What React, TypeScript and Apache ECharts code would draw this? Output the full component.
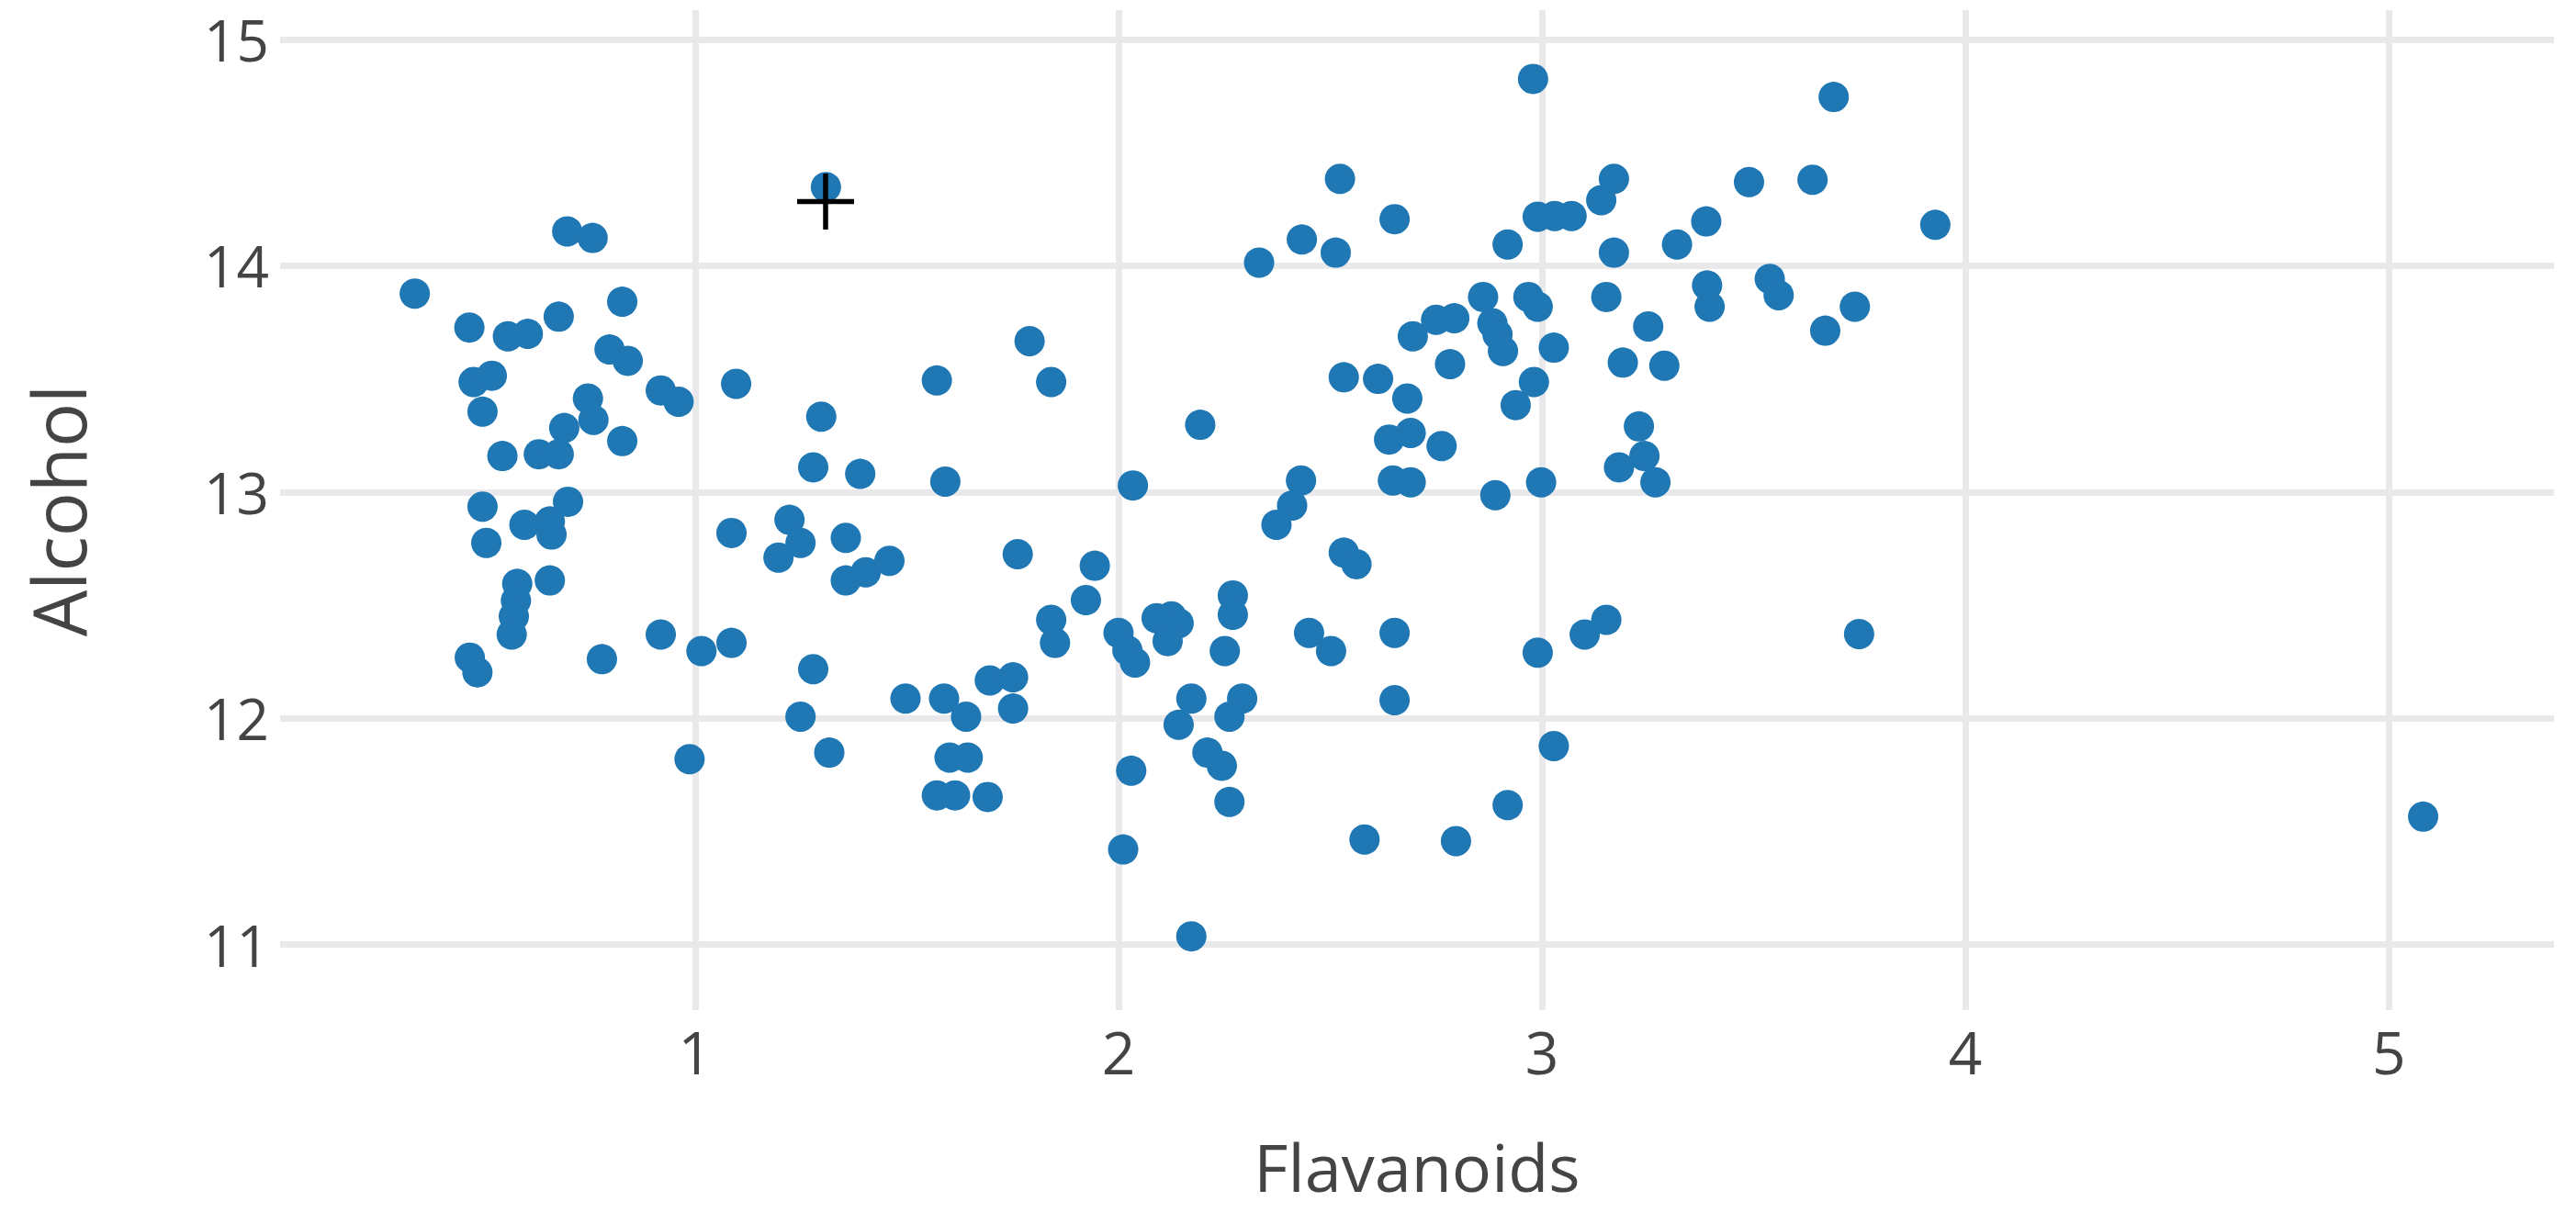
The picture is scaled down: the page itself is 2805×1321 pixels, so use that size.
import React, { useEffect, useRef } from "react";
import * as echarts from "echarts";

const flavanoids: number[] = [
  0.698, 0.758, 1.309, 0.338, 0.467, 0.558, 0.605, 0.678, 0.828, 0.798, 0.841, 0.919, 0.961, 1.097,
  0.477, 0.52, 0.498, 0.747, 0.76, 0.691, 0.545, 0.631, 0.678, 0.828, 1.298, 1.279, 1.39,
  0.498, 0.7, 0.507, 0.597, 0.657, 0.661, 0.58, 0.577, 0.572, 0.567, 0.657, 0.468, 0.486, 0.78,
  0.919, 1.015, 1.086, 1.279, 1.497, 1.249, 1.317, 0.987, 1.086, 1.223, 1.249, 1.197, 1.356,
  1.356, 1.403, 1.459,
  2.523, 2.652, 2.433, 2.513, 2.332, 1.79, 1.571, 1.841, 2.193, 1.591, 2.034, 2.431, 2.532,
  2.613, 2.682, 2.639, 2.69, 2.763, 2.648, 2.69, 2.695, 2.75, 2.793, 2.783,
  2.979, 3.689, 3.17, 3.14, 3.489, 3.639, 2.99, 3.03, 3.07, 2.919, 3.17, 3.319, 3.388, 3.929,
  3.538, 3.559, 3.39, 3.396, 3.739, 3.669, 2.861, 2.968, 2.99, 2.883, 2.895, 2.908, 3.028,
  3.152, 3.251, 3.191, 3.289, 2.981, 2.938, 3.229, 3.182, 3.242, 3.268, 2.89, 2.998,
  2.99, 3.101, 3.152, 3.749, 3.028, 2.919, 2.797, 5.081,
  2.41, 2.373, 2.532, 2.562, 1.762, 1.944, 1.923, 1.841, 1.85, 2.0, 2.021, 2.039, 2.09, 2.125,
  2.142, 2.116, 2.27, 2.27, 2.251, 2.45, 2.502, 2.652, 2.652, 2.172, 2.142, 2.292, 2.262,
  2.21, 2.244, 2.03, 2.262, 2.011, 2.581, 2.172, 1.588, 1.64, 1.696, 1.751, 1.751, 1.601,
  1.644, 1.571, 1.614, 1.691,
];

const alcohol: number[] = [
  14.152, 14.123, 14.348, 13.877, 13.727, 13.688, 13.699, 13.775, 13.841, 13.63, 13.58, 13.449,
  13.399, 13.478, 13.486, 13.514, 13.355, 13.413, 13.319, 13.283, 13.159, 13.167, 13.167, 13.225,
  13.333, 13.109, 13.08,
  12.935, 12.957, 12.775, 12.855, 12.87, 12.812, 12.594, 12.52, 12.45, 12.37, 12.609, 12.268,
  12.203, 12.261, 12.37, 12.297, 12.333, 12.217, 12.087, 12.007, 11.848, 11.819, 12.819, 12.877,
  12.775, 12.71, 12.797, 12.609, 12.645, 12.696,
  14.384, 14.206, 14.116, 14.058, 14.014, 13.667, 13.493, 13.486, 13.297, 13.046, 13.029, 13.051,
  13.507, 13.5, 13.413, 13.232, 13.261, 13.203, 13.051, 13.043, 13.688, 13.761, 13.768, 13.565,
  14.826, 14.746, 14.384, 14.29, 14.37, 14.38, 14.217, 14.22, 14.22, 14.094, 14.058, 14.094,
  14.196, 14.181, 13.942, 13.87, 13.913, 13.819, 13.819, 13.713, 13.862, 13.862, 13.819, 13.746,
  13.696, 13.623, 13.638, 13.862, 13.732, 13.572, 13.558, 13.486, 13.384, 13.29, 13.109, 13.159,
  13.043, 12.986, 13.043,
  12.29, 12.37, 12.435, 12.372, 11.877, 11.616, 11.457, 11.565,
  12.94, 12.855, 12.732, 12.681, 12.725, 12.674, 12.522, 12.435, 12.333, 12.377, 12.3, 12.246,
  12.442, 12.45, 12.42, 12.341, 12.543, 12.457, 12.297, 12.377, 12.297, 12.377, 12.08, 12.087,
  11.971, 12.087, 12.007, 11.848, 11.79, 11.768, 11.63, 11.42, 11.464, 11.036, 12.087, 12.007,
  12.167, 12.181, 12.043, 11.826, 11.826, 11.659, 11.659, 11.652,
];

const xTitle = "Flavanoids";
const yTitle = "Alcohol";

const FONT = "'Open Sans', 'Noto Sans', sans-serif";
const TEXT = "#444";
const GRID = "#e9e9ec";

export default function App() {
  const ref = useRef<HTMLDivElement>(null);

  useEffect(() => {
    if (!ref.current) return;
    const chart = echarts.init(ref.current, undefined, { renderer: "svg" });
    const points = flavanoids.map((x, i) => [x, alcohol[i]]);
    chart.setOption({
      animation: false,
      backgroundColor: "#fff",
      grid: { left: 305, right: 24, top: 11, bottom: 221 },
      xAxis: {
        type: "value",
        min: 0.02,
        max: 5.39,
        splitNumber: 5,
        axisLine: { show: false },
        axisTick: { show: false },
        axisLabel: {
          showMinLabel: false,
          showMaxLabel: false,
          color: TEXT,
          fontFamily: FONT,
          fontSize: 64,
          lineHeight: 64,
          margin: 13,
        },
        splitLine: {
          show: true,
          showMinLine: false,
          showMaxLine: false,
          lineStyle: { color: GRID, width: 7 },
        },
      },
      yAxis: {
        type: "value",
        min: 10.71,
        max: 15.13,
        splitNumber: 5,
        axisLine: { show: false },
        axisTick: { show: false },
        axisLabel: {
          showMinLabel: false,
          showMaxLabel: false,
          color: TEXT,
          fontFamily: FONT,
          fontSize: 62,
          lineHeight: 60,
          margin: 12,
        },
        splitLine: {
          show: true,
          showMinLine: false,
          showMaxLine: false,
          lineStyle: { color: GRID, width: 7 },
        },
      },
      series: [
        {
          type: "scatter",
          data: points,
          symbol: "circle",
          symbolSize: 33,
          itemStyle: { color: "#1f77b4", opacity: 1 },
        },
      ],
      graphic: [
        {
          type: "text",
          x: 1543,
          y: 1270,
          style: {
            text: xTitle,
            font: `72px ${FONT}`,
            lineHeight: 60,
            fill: TEXT,
            textAlign: "center",
            textVerticalAlign: "middle",
          },
        },
        {
          type: "text",
          x: 62,
          y: 556,
          rotation: Math.PI / 2,
          style: {
            text: yTitle,
            font: `80px ${FONT}`,
            fill: TEXT,
            textAlign: "center",
            textVerticalAlign: "middle",
          },
        },
        {
          type: "line",
          shape: { x1: 868, y1: 219.5, x2: 930, y2: 219.5 },
          style: { stroke: "#000", lineWidth: 5.5 },
          z: 100,
        },
        {
          type: "line",
          shape: { x1: 899, y1: 189, x2: 899, y2: 250 },
          style: { stroke: "#000", lineWidth: 5.5 },
          z: 100,
        },
      ],
    });
    return () => chart.dispose();
  }, []);

  return (
    <div
      ref={ref}
      style={{ position: "fixed", left: 0, top: 0, width: "2805px", height: "1321px", background: "#fff" }}
    />
  );
}
